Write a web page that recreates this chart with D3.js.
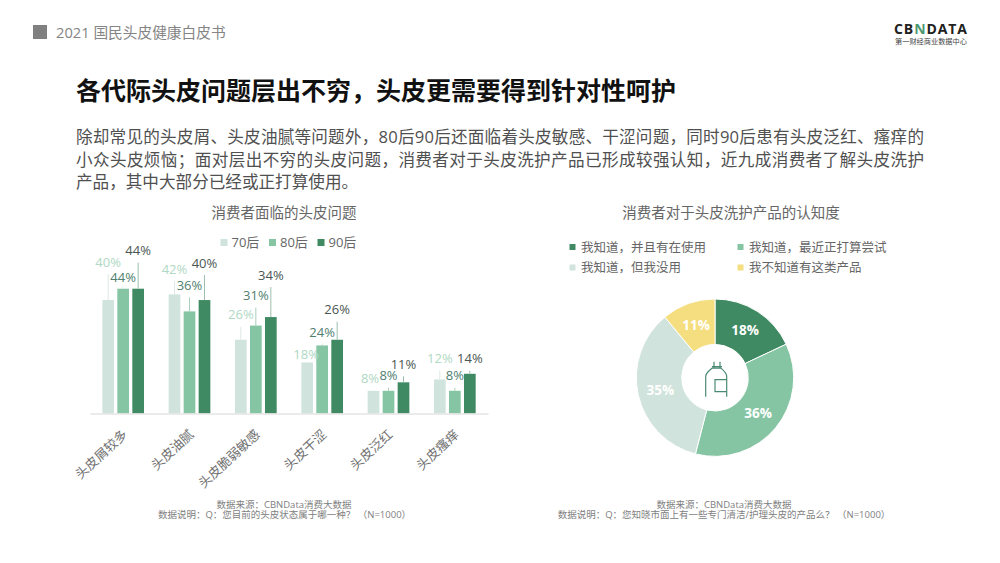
<!DOCTYPE html>
<html>
<head>
<meta charset="utf-8">
<script src="https://cdn.jsdelivr.net/npm/d3@7/dist/d3.min.js"></script>
<style>
  html, body { margin: 0; padding: 0; background: #fff; }
  text { font-family: "Open Sans", "Noto Sans CJK SC", sans-serif; }
</style>
</head>
<body>
<svg id="chart"></svg>
<script>
// Bar chart data
const categories = ["头皮屑较多", "头皮油腻", "头皮脆弱敏感", "头皮干涩", "头皮泛红", "头皮瘙痒"];
const generations = ["70后", "80后", "90后"];
const values70 = [40, 42, 26, 18, 8, 12];
const values80 = [44, 36, 31, 24, 8, 8];
const values90 = [44, 40, 34, 26, 11, 14];

// Donut data
const awarenessLabels = ["我知道，并且有在使用", "我知道，最近正打算尝试", "我知道，但我没用", "我不知道有这类产品"];
const awarenessValues = [18, 36, 35, 11];

// Text
const introLines = [
  "除却常见的头皮屑、头皮油腻等问题外，80后90后还面临着头皮敏感、干涩问题，同时90后患有头皮泛红、瘙痒的",
  "小众头皮烦恼；面对层出不穷的头皮问题，消费者对于头皮洗护产品已形成较强认知，近九成消费者了解头皮洗护",
  "产品，其中大部分已经或正打算使用。",
];

// How far each bar label sits above its bar, in px
const labelLift = [
  [38, 25, 25, 8, 12, 21],
  [11, 26, 30, 13, 15, 15],
  [38, 37, 42, 30, 18, 15],
];
// Sideways nudge for the labels that would collide otherwise
const labelNudge = [
  [0, 0, 0, -1, -3.5, 0],
  [0, 0, 0, 0, 0, 0],
  [0, 0, 0, 0, 0, 0],
];

const seriesColors = ["#d0e3dc", "#85c5a3", "#408a63"];
const labelColors = ["#b0d8c4", "#4f8070", "#4a5752"];
const leaderColors = ["#dde9e4", "#a9cfbb", "#9dbfae"];
const donutColors = ["#408a63", "#85c5a3", "#d0e3dc", "#f5de7f"];

const width = 1000;
const height = 563;

const svg = d3.select("#chart").attr("width", width).attr("height", height).style("display", "block");

// Header
svg.append("rect").attr("x", 33).attr("y", 25).attr("width", 14).attr("height", 14).attr("fill", "#808080");
svg.append("text").attr("x", 56).attr("y", 38).attr("font-size", 14.7).attr("fill", "#858585").text("2021 国民头皮健康白皮书");

// Logo
const logo = svg.append("text").attr("x", 894).attr("y", 33.5).attr("font-size", 14).attr("font-weight", 700)
  .attr("letter-spacing", 0.9).attr("fill", "#222");
logo.append("tspan").text("CB");
logo.append("tspan").attr("fill", "#4f9a72").text("N");
logo.append("tspan").text("DATA");
svg.append("text").attr("x", 895).attr("y", 44).attr("font-size", 7.2).attr("fill", "#444").text("第一财经商业数据中心");

// Title and intro
svg.append("text").attr("x", 76).attr("y", 100).attr("font-size", 25).attr("font-weight", 700).attr("fill", "#111")
  .text("各代际头皮问题层出不穷，头皮更需要得到针对性呵护");
svg.selectAll(".intro").data(introLines).enter().append("text").attr("class", "intro")
  .attr("x", 76).attr("y", (d, i) => 143 + i * 22.5).attr("font-size", 16.6).attr("fill", "#505050")
  .attr("textLength", (d, i) => (i < 2 ? 848 : null))
  .text((d) => d);

// Chart titles
svg.append("text").attr("x", 284).attr("y", 218).attr("text-anchor", "middle").attr("font-size", 14.5).attr("fill", "#666")
  .text("消费者面临的头皮问题");
svg.append("text").attr("x", 731).attr("y", 218).attr("text-anchor", "middle").attr("font-size", 14.5).attr("fill", "#666")
  .text("消费者对于头皮洗护产品的认知度");

// Bar chart
const x0 = d3.scaleBand().domain(categories).range([90, 488]);
const x1 = d3.scaleBand().domain(generations).range([-22.5, 22.5]);
const y = d3.scaleLinear().domain([0, 44]).range([413.5, 288.7]);
const barWidth = 11.7;
const series = [values70, values80, values90];
const barCenter = (cat, gen) => x0(cat) + x0.bandwidth() / 2 + x1(gen) + x1.bandwidth() / 2;

const rows = [];
generations.forEach((gen, s) => {
  categories.forEach((cat, c) => {
    rows.push({ cat, gen, s, value: series[s][c], lift: labelLift[s][c], nudge: labelNudge[s][c] });
  });
});

svg.selectAll(".bar").data(rows).enter().append("rect").attr("class", "bar")
  .attr("x", (d) => barCenter(d.cat, d.gen) - barWidth / 2)
  .attr("y", (d) => y(d.value))
  .attr("width", barWidth)
  .attr("height", (d) => y(0) - y(d.value))
  .attr("fill", (d) => seriesColors[d.s]);

// Leader lines only where the label is far enough from the bar
svg.selectAll(".leader").data(rows.filter((d) => d.lift > 12)).enter().append("line").attr("class", "leader")
  .attr("x1", (d) => barCenter(d.cat, d.gen))
  .attr("x2", (d) => barCenter(d.cat, d.gen))
  .attr("y1", (d) => y(d.value))
  .attr("y2", (d) => y(d.value) - d.lift + 12)
  .attr("stroke", (d) => leaderColors[d.s])
  .attr("stroke-width", 1);

svg.selectAll(".barLabel").data(rows).enter().append("text").attr("class", "barLabel")
  .attr("x", (d) => barCenter(d.cat, d.gen) + d.nudge)
  .attr("y", (d) => y(d.value) - d.lift)
  .attr("dy", "0.36em")
  .attr("text-anchor", "middle")
  .attr("font-size", 13)
  .attr("fill", (d) => labelColors[d.s])
  .text((d) => d.value + "%");

// Category axis
const xAxis = svg.append("g").attr("transform", "translate(0,413.5)").call(d3.axisBottom(x0).tickSize(0).tickPadding(0));
xAxis.select(".domain").attr("stroke", "#e4e4e4").attr("stroke-width", 1.5);
xAxis.selectAll("text")
  .attr("font-size", 13)
  .attr("fill", "#707070")
  .attr("text-anchor", "end")
  .attr("dy", 0)
  .attr("y", 0)
  .attr("transform", "translate(5,22) rotate(-43)")
  .style("font-family", '"Noto Sans CJK SC", sans-serif');

// Bar legend
const barLegend = svg.selectAll(".barLegend").data(generations).enter().append("g").attr("class", "barLegend")
  .attr("transform", (d, i) => `translate(${220.5 + i * 48.5},242.5)`);
barLegend.append("rect").attr("y", -3.5).attr("width", 7).attr("height", 7).attr("fill", (d, i) => seriesColors[i]);
barLegend.append("text").attr("x", 11).attr("dy", "0.36em").attr("font-size", 13).attr("fill", "#666").text((d) => d);

// Donut
const pie = d3.pie().sort(null)(awarenessValues);
const arc = d3.arc().innerRadius(33.3).outerRadius(78.7);
const donut = svg.append("g").attr("transform", "translate(715,377.7)");
donut.selectAll("path").data(pie).enter().append("path")
  .attr("d", arc)
  .attr("fill", (d, i) => donutColors[i])
  .attr("stroke", "#fff")
  .attr("stroke-width", 1);
donut.selectAll("text").data(pie).enter().append("text")
  .attr("transform", (d) => `translate(${arc.centroid(d)})`)
  .attr("text-anchor", "middle")
  .attr("dy", "0.36em")
  .attr("font-size", 13.5)
  .attr("font-weight", 700)
  .attr("fill", "#fff")
  .text((d) => d.value + "%");

// Bottle icon in the donut hole
donut.append("path")
  .attr("d", "M-9.3,19V-1C-9.3,-5 -6,-7 -3,-9.5H6C9,-7 11.7,-5 11.7,-1V19M-1,-9.5V-16M5,-9.5V-16M-3,-11H7M11.7,2H0V14H11.7")
  .attr("fill", "none")
  .attr("stroke", "#4a8a72")
  .attr("stroke-width", 1.2);

// Donut legend
const legendSpots = [[569.5, 247], [737.5, 247], [569.5, 267.5], [737.5, 267.5]];
const donutLegend = svg.selectAll(".donutLegend").data(awarenessLabels).enter().append("g").attr("class", "donutLegend")
  .attr("transform", (d, i) => `translate(${legendSpots[i]})`);
donutLegend.append("rect").attr("y", -3).attr("width", 6).attr("height", 6).attr("fill", (d, i) => donutColors[i]);
donutLegend.append("text").attr("x", 11.5).attr("dy", "0.36em").attr("font-size", 12.5).attr("fill", "#666").text((d) => d);

// Footnotes
const footnotes = [
  { x: 284, y: 505, text: "数据来源：CBNData消费大数据" },
  { x: 284.5, y: 515, text: "数据说明：Q：您目前的头皮状态属于哪一种？ （N=1000）" },
  { x: 724, y: 505, text: "数据来源：CBNData消费大数据" },
  { x: 724, y: 515, text: "数据说明：Q：您知晓市面上有一些专门清洁/护理头皮的产品么？ （N=1000）" },
];
svg.selectAll(".foot").data(footnotes).enter().append("text").attr("class", "foot")
  .attr("x", (d) => d.x).attr("y", (d) => d.y)
  .attr("dy", "0.36em")
  .attr("text-anchor", "middle")
  .attr("font-size", 9.5)
  .attr("fill", "#808080")
  .text((d) => d.text);
</script>
</body>
</html>
